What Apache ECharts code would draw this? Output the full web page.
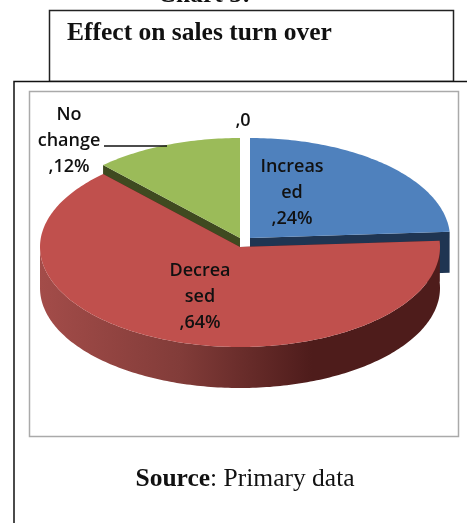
<!DOCTYPE html>
<html>
<head>
<meta charset="utf-8">
<style>
html, body { margin: 0; padding: 0; background: #fff; }
#main { width: 467px; height: 523px; }
</style>
<script src="https://cdn.jsdelivr.net/npm/echarts@6/dist/echarts.min.js"></script>
</head>
<body>
<div id="main"></div>
<script>
// chart data
var categories = ['Increased', 'Decreased', 'No change', ''];
var shares = [24, 64, 12, 0];
var labelTexts = ['Increas\ned\n,24%', 'Decrea\nsed\n,64%', 'No\nchange\n,12%', ',0'];

// colours per slice
var topColors = ['#4f81bd', '#c0504d', '#9bbb59', '#8064a2'];
var wallColors = ['#1f3552', '#4e1c1b', '#3f4a20', '#8064a2'];

// tilted pie geometry
var rx = 200, ry = 100, depth = 41;
var centers = [[250, 238], [240, 247], [240, 238], [240, 238]];
var labelPos = [[292, 193], [200, 297], [69, 141], [243, 121]];
var drawOrder = [1, 3, 2, 4];

var total = shares.reduce(function (a, b) { return a + b; }, 0);

function pt(c, deg) {
  var r = deg * Math.PI / 180;
  return [c[0] + rx * Math.sin(r), c[1] - ry * Math.cos(r)];
}

// top face outline of a slice, angles clockwise from twelve o'clock
function sector(c, a0, a1) {
  var pts = [c];
  for (var a = a0; a < a1; a += 1) pts.push(pt(c, a));
  pts.push(pt(c, a1));
  return pts;
}

function down(p) { return [p[0], p[1] + depth]; }

function renderSlice(params, api) {
  var i = params.dataIndex;
  var value = api.value(1);
  var before = 0;
  for (var k = 0; k < i; k++) before += shares[k];
  var a0 = before / total * 360, a1 = (before + value) / total * 360;
  var c = centers[i];
  var z = drawOrder[i] * 10;
  var children = [];

  if (value > 0) {
    // cut faces, seen only where the slice has been pulled away
    [a0, a1].forEach(function (a) {
      var tip = pt(c, a);
      children.push({
        type: 'polygon', z2: z,
        shape: { points: [c, tip, down(tip), down(c)] },
        style: { fill: wallColors[i] }
      });
    });
    // outer wall, front half only
    var from = Math.max(a0, 90 - 3.6), to = Math.min(a1, 270);
    if (to > from) {
      var rim = [];
      for (var a = from; a <= to; a += 1) rim.push(pt(c, a));
      var low = rim.map(down).reverse();
      children.push({
        type: 'polygon', z2: z + 1,
        shape: { points: rim.concat(low) },
        style: {
          fill: i === 1 ? {
            type: 'linear', x: 0, y: 0, x2: 1, y2: 0,
            colorStops: [
              { offset: 0, color: '#a34c49' },
              { offset: 0.35, color: '#823c39' },
              { offset: 0.68, color: '#4e1c1b' },
              { offset: 1, color: '#4e1c1b' }
            ]
          } : wallColors[i]
        }
      });
    }
    children.push({
      type: 'polygon', z2: z + 2,
      shape: { points: sector(c, a0, a1) },
      style: { fill: topColors[i] }
    });
  }
  children.push({
    type: 'text', z2: 100,
    style: {
      x: labelPos[i][0], y: labelPos[i][1],
      text: labelTexts[i],
      align: 'center', verticalAlign: 'middle',
      font: '600 18px "Open Sans"',
      lineHeight: 26,
      fill: '#111'
    }
  });
  return { type: 'group', children: children };
}

var chart = echarts.init(document.getElementById('main'), null, { renderer: 'canvas' });

chart.setOption({
  animation: false,
  backgroundColor: '#fff',
  graphic: [
    { type: 'text', z: 1, style: { x: 204, y: -5, text: 'Chart 5:', align: 'center', verticalAlign: 'middle', font: 'bold 25.5px "Liberation Serif"', fill: '#111' } },
    { type: 'rect', z: 1, shape: { x: 49.5, y: 10.5, width: 404, height: 71 }, style: { fill: '#fff', stroke: '#222', lineWidth: 1.5 } },
    { type: 'text', z: 2, style: { x: 67, y: 33, text: 'Effect on sales turn over', verticalAlign: 'middle', font: 'bold 25.5px "Liberation Serif"', fill: '#111' } },
    { type: 'rect', z: 1, shape: { x: 14, y: 81.5, width: 460, height: 450 }, style: { fill: '#fff', stroke: '#111', lineWidth: 1.5 } },
    { type: 'rect', z: 2, shape: { x: 29.5, y: 91.5, width: 429, height: 345 }, style: { fill: '#fff', stroke: '#aaa', lineWidth: 1.5 } },
    { type: 'line', z: 20, shape: { x1: 104, y1: 146, x2: 167, y2: 146 }, style: { stroke: '#111', lineWidth: 1.5 } },
    {
      type: 'text', z: 2,
      style: {
        x: 245, y: 479, align: 'center', verticalAlign: 'middle',
        text: '{b|Source}{r|: Primary data}',
        rich: {
          b: { font: 'bold 25.5px "Liberation Serif"', fill: '#111' },
          r: { font: '25.5px "Liberation Serif"', fill: '#111' }
        }
      }
    }
  ],
  series: [{
    type: 'custom',
    coordinateSystem: 'none',
    z: 10,
    renderItem: renderSlice,
    data: categories.map(function (name, i) { return [name, shares[i]]; })
  }]
});
</script>
</body>
</html>
